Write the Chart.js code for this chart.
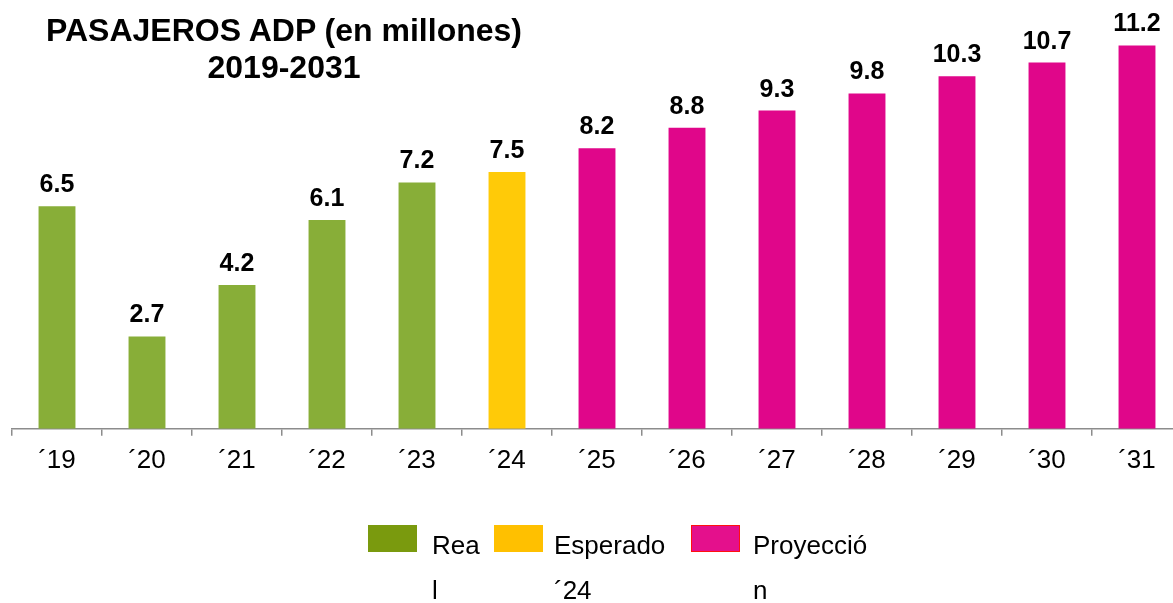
<!DOCTYPE html>
<html>
<head>
<meta charset="utf-8">
<script src="https://cdn.jsdelivr.net/npm/chart.js@4"></script>
<style>
  html, body { margin: 0; padding: 0; background: #fff; overflow: hidden; }
  body { width: 1173px; height: 603px; position: relative; font-family: "Liberation Sans", Arial, sans-serif; }
  #wrap { position: absolute; left: 0; top: 0; width: 1185px; height: 603px; }
  #title { position: absolute; left: 0; top: 12px; width: 568px; text-align: center;
           font-weight: bold; font-size: 32px; line-height: 37px; color: #000; }
  .leg { position: absolute; top: 525px; display: flex; }
  .leg .box { width: 49px; height: 27px; }
  .leg .txt { font-size: 26px; line-height: 45px; margin-top: -2px; color: #000; }
</style>
</head>
<body>
<div id="wrap"><canvas id="chart"></canvas></div>
<div id="title">PASAJEROS ADP (en millones)<br>2019-2031</div>
<div id="legend"></div>
<script>
// --- DATA ---
const years = ['´19', '´20', '´21', '´22', '´23', '´24', '´25', '´26', '´27', '´28', '´29', '´30', '´31'];
const realValues = [6.5, 2.7, 4.2, 6.1, 7.2, null, null, null, null, null, null, null, null];
const expectedValues = [null, null, null, null, null, 7.5, null, null, null, null, null, null, null];
const projectionValues = [null, null, null, null, null, null, 8.2, 8.8, 9.3, 9.8, 10.3, 10.7, 11.2];
const seriesNames = ['Real', 'Esperado ´24', 'Proyección'];

// legend text wraps the same way as the original
const legendLines = [['Rea', 'l'], ['Esperado', '´24'], ['Proyecció', 'n']];
const legendLeft = [368, 494, 691];
const legendGap = [15, 11, 13];
const legendColors = ['#7A9A0E', '#FFC000', '#E4108C'];

// bar labels above each bar
const barLabels = {
    id: 'barLabels',
    afterDatasetsDraw(chart) {
        const ctx = chart.ctx;
        ctx.save();
        ctx.font = 'bold 25px "Liberation Sans", Arial, sans-serif';
        ctx.fillStyle = '#000';
        ctx.textAlign = 'center';
        ctx.textBaseline = 'alphabetic';
        chart.data.datasets.forEach((ds, i) => {
            chart.getDatasetMeta(i).data.forEach((bar, j) => {
                if (ds.data[j] == null) return;
                ctx.fillText(ds.data[j].toFixed(1), bar.x, bar.y - 14);
            });
        });
        ctx.restore();
    }
};

function renderChart() {
    const ctx = document.getElementById('chart');
    new Chart(ctx, {
        type: 'bar',
        data: {
            labels: years,
            datasets: [
                { label: seriesNames[0], data: realValues, backgroundColor: '#88AE38' },
                { label: seriesNames[1], data: expectedValues, backgroundColor: '#FFCA08' },
                { label: seriesNames[2], data: projectionValues, backgroundColor: '#E0068A' }
            ]
        },
        options: {
            responsive: true,
            maintainAspectRatio: false,
            animation: false,
            layout: { padding: { left: 12, right: 3, top: 1, bottom: 118 } },
            datasets: { bar: { categoryPercentage: 1, barPercentage: 0.41 } },
            scales: {
                x: {
                    stacked: true,
                    offset: true,
                    grid: { display: true, drawOnChartArea: false, offset: true, color: '#8c8c8c', tickLength: 7, lineWidth: 1.5 },
                    border: { display: true, color: '#8c8c8c', width: 1.5 },
                    ticks: { color: '#000', padding: 9, font: { family: '"Liberation Sans", Arial, sans-serif', size: 26 } }
                },
                y: {
                    stacked: true,
                    display: false,
                    min: 0,
                    max: 12.5
                }
            },
            plugins: {
                legend: { display: false },
                tooltip: { enabled: false }
            }
        },
        plugins: [barLabels]
    });
}

function renderLegend() {
    const legend = document.getElementById('legend');
    legendLines.forEach((lines, i) => {
        const item = document.createElement('div');
        item.className = 'leg';
        item.style.left = legendLeft[i] + 'px';
        const box = document.createElement('div');
        box.className = 'box';
        box.style.background = legendColors[i];
        if (i === 2) { box.style.boxSizing = 'border-box'; box.style.border = '1px solid #FF1010'; }
        const txt = document.createElement('div');
        txt.className = 'txt';
        txt.style.marginLeft = legendGap[i] + 'px';
        txt.innerHTML = lines.join('<br>');
        item.appendChild(box);
        item.appendChild(txt);
        legend.appendChild(item);
    });
}

renderLegend();
renderChart();
</script>
</body>
</html>
